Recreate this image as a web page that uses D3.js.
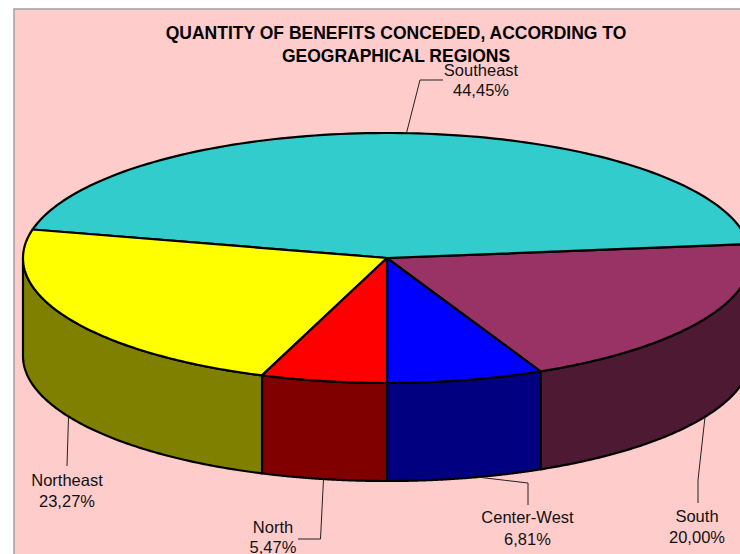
<!DOCTYPE html>
<html>
<head>
<meta charset="utf-8">
<script src="https://cdn.jsdelivr.net/npm/d3@7/dist/d3.min.js"></script>
<style>
html,body{margin:0;padding:0;background:#fff;overflow:hidden}
svg{display:block}
text{font-family:"Liberation Sans",Arial,sans-serif}
</style>
</head>
<body>
<div id="chart"></div>
<script>
const categories = ["Center-West", "South", "Southeast", "Northeast", "North"];
const shares = [6.81, 20.00, 44.45, 23.27, 5.47];
const shareLabels = ["6,81%", "20,00%", "44,45%", "23,27%", "5,47%"];
const topColors = ["#0000FF", "#993366", "#33CCCC", "#FFFF00", "#FF0000"];
const sideColors = ["#000080", "#4D1933", "#1A6666", "#808000", "#800000"];
const titleLines = ["QUANTITY OF BENEFITS CONCEDED, ACCORDING TO", "GEOGRAPHICAL REGIONS"];

// layout (not data)
const W = 740, H = 554;
const cx = 387, cy = 258, rx = 364, ry = 125, depth = 98;
const labelX = [527.5, 697, 481, 67, 273];
const labelY = [523, 522, 76, 486, 533];
const lineGap = [22, 21, 20, 21, 20];
const leaders = [
  [[477,477],[528,483],[528,505]],
  [[705,417],[698,480],[698,503]],
  [[406.5,133],[420,80],[443,80]],
  [[68.5,417],[67,466]],
  [[323.5,479],[320.5,539],[298,539]]
];

const svg = d3.select("#chart").append("svg").attr("width", W).attr("height", H);

svg.append("rect").attr("x", 14).attr("y", 9).attr("width", W + 10).attr("height", H + 10)
  .attr("fill", "#FFCCCC").attr("stroke", "#A0A0A0").attr("stroke-width", 1.5);

const pie = d3.pie().value(d => d).sort(null);
const arcs = pie(shares);

// elliptical projection: t measured clockwise from the front of the pie,
// with a slight widening of front wedges for the chart's perspective
const sx = d3.scaleLinear().domain([-1, 1]).range([cx - rx, cx + rx]);
const sy = d3.scaleLinear().domain([-1, 1]).range([cy - ry, cy + ry]);
const warp = t => t + 0.0105 * Math.sin(2 * t);
const pt = (t, dz = 0) => [sx(Math.sin(warp(t))), sy(Math.cos(warp(t))) + dz];
const line = d3.line();
const samples = (a, b, dz = 0) => d3.range(0, 121).map(i => pt(a + (b - a) * i / 120, dz));

const PI = Math.PI;
// side walls (visible only for the front half)
arcs.forEach((a, i) => {
  const s = a.startAngle, e = a.endAngle;
  const ranges = [[Math.max(s, -PI/2), Math.min(e, PI/2)], [Math.max(s, 1.5*PI), Math.min(e, 2.5*PI)]];
  ranges.forEach(([p, q]) => {
    if (q <= p) return;
    const upper = samples(p, q);
    const lower = samples(q, p, depth);
    svg.append("path").attr("d", line(upper.concat(lower)) + "Z")
      .attr("fill", sideColors[i]).attr("stroke", "#000").attr("stroke-width", 2.2).attr("stroke-linejoin", "round");
  });
});

// top faces
arcs.forEach((a, i) => {
  const pts = [[cx, cy]].concat(samples(a.startAngle, a.endAngle));
  svg.append("path").attr("d", line(pts) + "Z")
    .attr("fill", topColors[i]).attr("stroke", "#000").attr("stroke-width", 2.2).attr("stroke-linejoin", "round");
});

// leader lines
leaders.forEach(l => {
  svg.append("path").attr("d", line(l)).attr("fill", "none").attr("stroke", "#222").attr("stroke-width", 1);
});

// title
titleLines.forEach((t, i) => {
  svg.append("text").attr("x", 396).attr("y", 39 + i * 22.5).attr("text-anchor", "middle")
    .attr("font-size", 17.5).attr("font-weight", "bold").attr("fill", "#000").text(t);
});

// labels
categories.forEach((c, i) => {
  const g = svg.append("g").attr("font-size", 16.5).attr("fill", "#111").attr("text-anchor", "middle");
  g.append("text").attr("x", labelX[i]).attr("y", labelY[i]).text(c);
  g.append("text").attr("x", labelX[i]).attr("y", labelY[i] + lineGap[i]).text(shareLabels[i]);
});
</script>
</body>
</html>
